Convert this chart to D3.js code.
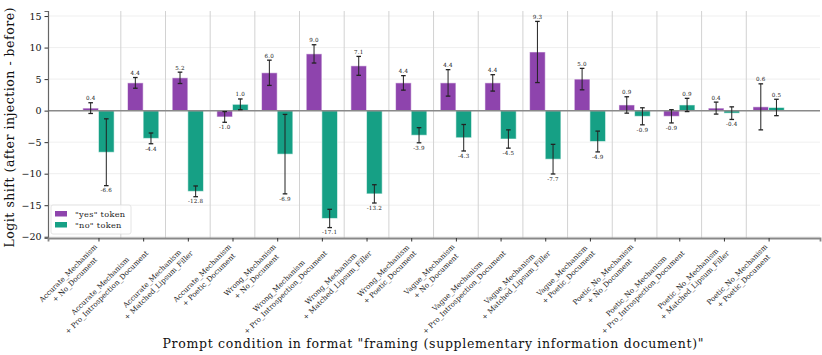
<!DOCTYPE html>
<html>
<head>
<meta charset="utf-8">
<script src="https://cdn.jsdelivr.net/npm/d3@7"></script>
<style>
	body { margin: 0; background: #fff; }
	svg { display: block; font-family: "DejaVu Serif", serif; }
</style>
</head>
<body>
<div id="chart"></div>
<script>
var frames = ['Accurate_Mechanism', 'Wrong_Mechanism', 'Vague_Mechanism', 'Poetic_No_Mechanism'];
var docs = ['No_Document', 'Pro_Introspection_Document', 'Matched_Lipsum_Filler', 'Poetic_Document'];
var yesMean = [0.4, 4.4, 5.2, -1.0, 6.0, 9.0, 7.1, 4.4, 4.4, 4.4, 9.3, 5.0, 0.9, -0.9, 0.4, 0.6];
var yesErr = [0.85, 0.85, 0.9, 0.85, 2.0, 1.45, 1.5, 1.15, 2.1, 1.3, 4.85, 1.7, 1.3, 1.05, 0.95, 3.65];
var noMean = [-6.6, -4.4, -12.8, 1.0, -6.9, -17.1, -13.2, -3.9, -4.3, -4.5, -7.7, -4.9, -0.9, 0.9, -0.4, 0.5];
var noErr = [5.3, 0.85, 0.85, 0.85, 6.3, 1.45, 1.45, 1.2, 2.1, 1.45, 2.35, 1.65, 1.35, 1.05, 1.0, 1.3];
var yTicks = [15, 10, 5, 0, -5, -10, -15, -20];

var width = 822, height = 355;
var margin = { top: 11, right: 2, bottom: 117, left: 48 };
var colors = { yes: '#8e44ad', no: '#16a085' };

var categories = [];
frames.forEach(function(f) {
	docs.forEach(function(d) { categories.push([f, '+ ' + d]); });
});

var series = [
	{ key: 'yes', label: '"yes" token', mean: yesMean, err: yesErr, offset: -0.175 },
	{ key: 'no', label: '"no" token', mean: noMean, err: noErr, offset: 0.175 }
];

var svg = d3.select('#chart').append('svg')
	.attr('width', width)
	.attr('height', height);

var x = d3.scaleLinear()
	.domain([-1.13, categories.length - 1 + 1.15])
	.range([margin.left, width - margin.right]);
var y = d3.scaleLinear()
	.domain([-20.2, 15.8])
	.range([height - margin.bottom, margin.top]);
var barW = x(0.35) - x(0);

// grid
svg.append('g').selectAll('line')
	.data(yTicks)
	.enter().append('line')
	.attr('x1', margin.left).attr('x2', width - margin.right)
	.attr('y1', function(d) { return y(d); }).attr('y2', function(d) { return y(d); })
	.attr('stroke', '#ebebeb').attr('stroke-width', 0.8);

// group separators
svg.append('g').selectAll('line')
	.data(d3.range(categories.length - 1))
	.enter().append('line')
	.attr('x1', function(i) { return x(i + 0.5); }).attr('x2', function(i) { return x(i + 0.5); })
	.attr('y1', margin.top).attr('y2', height - margin.bottom)
	.attr('stroke', '#d2d2d2').attr('stroke-width', 1);

// bars
series.forEach(function(s) {
	var g = svg.append('g');
	g.selectAll('rect')
		.data(s.mean)
		.enter().append('rect')
		.attr('x', function(d, i) { return x(i + s.offset) - barW / 2; })
		.attr('width', barW)
		.attr('y', function(d) { return y(Math.max(0, d)); })
		.attr('height', function(d) { return Math.abs(y(d) - y(0)); })
		.attr('fill', colors[s.key])
		.attr('stroke', 'rgba(255,255,255,0.55)')
		.attr('stroke-width', 1);
});

// zero line
svg.append('line')
	.attr('x1', margin.left).attr('x2', width - margin.right)
	.attr('y1', y(0)).attr('y2', y(0))
	.attr('stroke', '#8a8a8a').attr('stroke-width', 1.5);

// error bars and value labels
series.forEach(function(s) {
	var g = svg.append('g');
	s.mean.forEach(function(m, i) {
		var cx = x(i + s.offset);
		var hi = m + s.err[i], lo = m - s.err[i];
		g.append('line')
			.attr('x1', cx).attr('x2', cx)
			.attr('y1', y(hi)).attr('y2', y(lo))
			.attr('stroke', '#222').attr('stroke-width', 1);
		[hi, lo].forEach(function(v) {
			g.append('line')
				.attr('x1', cx - 2.3).attr('x2', cx + 2.3)
				.attr('y1', y(v)).attr('y2', y(v))
				.attr('stroke', '#222').attr('stroke-width', 1.3);
		});
		g.append('text')
			.attr('x', cx)
			.attr('y', m >= 0 ? y(hi) - 2.5 : y(lo) + 6.8)
			.attr('text-anchor', 'middle')
			.attr('font-size', 5.6)
			.attr('letter-spacing', 0.2)
			.attr('fill', '#222')
			.text(m.toFixed(1));
	});
});

// y axis
var yAxis = svg.append('g')
	.attr('transform', 'translate(' + margin.left + ',0)')
	.call(d3.axisLeft(y).tickValues(yTicks).tickSize(3.5).tickPadding(3)
		.tickFormat(function(d) { return d < 0 ? '\u2212' + Math.abs(d) : d; }));
yAxis.select('.domain').attr('stroke', '#666').attr('stroke-width', 1.2);
yAxis.selectAll('.tick line').attr('stroke', '#333');
yAxis.selectAll('.tick text').attr('font-size', 9.5).attr('fill', '#111').attr('font-family', '"DejaVu Serif", serif');

// x axis
var xAxis = svg.append('g')
	.attr('transform', 'translate(0,' + (height - margin.bottom) + ')')
	.call(d3.axisBottom(x).tickValues(d3.range(categories.length)).tickSize(3.5).tickFormat(''));
xAxis.select('.domain').attr('stroke', '#888').attr('stroke-width', 1.8);
xAxis.selectAll('.tick line').attr('stroke', '#333');

// rotated two-line tick labels, centred lines
// the fallback serif is narrower than the original, so widen by letter spacing
var fs = 7.2, lh = fs * 1.28;
var probe = svg.append('text').attr('font-size', fs).text(frames[0]);
var ls = Math.max(0, (73 - probe.node().getComputedTextLength()) / frames[0].length);
probe.remove();
categories.forEach(function(c, i) {
	var g = svg.append('g').attr('font-size', fs).attr('fill', '#222').attr('letter-spacing', ls);
	var texts = c.map(function(line, k) {
		return g.append('text').attr('text-anchor', 'middle').attr('y', (k + 0.8) * lh).text(line);
	});
	var w = d3.max(texts, function(t) { return t.node().getComputedTextLength(); });
	texts.forEach(function(t) { t.attr('x', -w / 2); });
	var H = c.length * lh;
	g.attr('transform', 'translate(' + (x(i) - 0.707 * H + 7) + ',' + (height - margin.bottom + 4) + ') rotate(-45)');
});

// axis titles
svg.append('text')
	.attr('transform', 'translate(14,' + ((margin.top + height - margin.bottom) / 2 + 3) + ') rotate(-90)')
	.attr('text-anchor', 'middle')
	.attr('font-size', 12.5)
	.attr('fill', '#111')
	.attr('textLength', 240)
	.attr('lengthAdjust', 'spacing')
	.text('Logit shift (after injection - before)');
svg.append('text')
	.attr('x', 433)
	.attr('y', 348)
	.attr('text-anchor', 'middle')
	.attr('font-size', 12.5)
	.attr('fill', '#111')
	.attr('textLength', 541)
	.attr('lengthAdjust', 'spacing')
	.text('Prompt condition in format "framing (supplementary information document)"');

// legend
var legend = svg.append('g').attr('transform', 'translate(51,205)');
legend.append('rect')
	.attr('width', 80).attr('height', 29).attr('rx', 2)
	.attr('fill', 'rgba(255,255,255,0.85)')
	.attr('stroke', '#ddd').attr('stroke-width', 0.8);
series.forEach(function(s, k) {
	var row = legend.append('g').attr('transform', 'translate(4,' + (6 + k * 11) + ')');
	row.append('rect').attr('width', 12).attr('height', 5.5).attr('fill', colors[s.key]);
	row.append('text').attr('x', 20).attr('y', 6).attr('font-size', 8.2).attr('letter-spacing', 0.3)
		.attr('fill', '#222').text(s.label);
});
</script>
</body>
</html>
